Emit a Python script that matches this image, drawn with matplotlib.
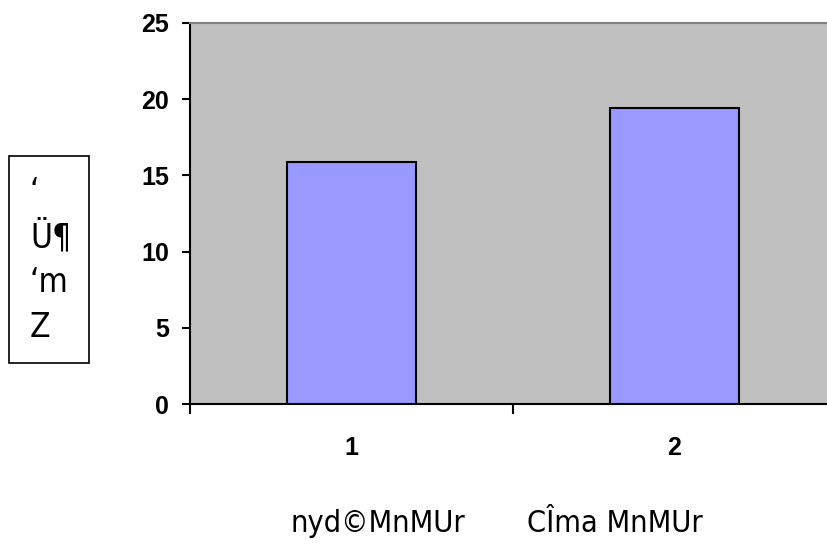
import matplotlib
matplotlib.use('Agg')
import matplotlib.pyplot as plt
from matplotlib.patches import Rectangle
from matplotlib.ticker import FixedLocator

categories = ['1', '2']
values = [15.9, 19.4]
y_ticks = [0, 5, 10, 15, 20, 25]
bottom_labels = ['nyd©MnMUr', 'CÎma MnMUr']
side_lines = ['‘', 'Ü¶', '‘m', 'Z']

narrow = ['DejaVu Sans', 'Liberation Sans']
plt.rcParams['font.family'] = ['Liberation Sans', 'DejaVu Sans']

fig = plt.figure(figsize=(8.27, 5.54), dpi=100)
ax = fig.add_axes([190 / 827, 150 / 554, 646 / 827, 381 / 554])
ax.set_facecolor('#C0C0C0')

pos = [1, 2]
ax.bar(pos, values, width=0.4, color='#9999FF', edgecolor='black', linewidth=1.5, zorder=3)

ax.set_xlim(0.5, 2.5)
ax.set_ylim(0, 25)
ax.set_yticks(y_ticks)
ax.set_yticklabels([str(t) for t in y_ticks], fontsize=18, fontweight='bold')
ax.set_xticks(pos)
ax.set_xticklabels(categories, fontsize=18, fontweight='bold')
ax.xaxis.set_minor_locator(FixedLocator([0.5, 1.5, 2.5]))
ax.tick_params(axis='x', which='major', length=0, pad=23)
ax.tick_params(axis='x', which='minor', length=7, width=1.5, direction='out')
ax.tick_params(axis='y', length=6, width=1.5, direction='out', pad=9)

ax.spines['left'].set_linewidth(1.5)
ax.spines['bottom'].set_linewidth(1.5)
ax.spines['top'].set_color('#808080')
ax.spines['top'].set_linewidth(1.5)
ax.spines['right'].set_visible(False)

# labels below the category axis
fig.text(378 / 827, 1 - 524 / 554, bottom_labels[0], fontsize=22, family=narrow,
         fontstretch='condensed', ha='center', va='center')
fig.text(615 / 827, 1 - 524 / 554, bottom_labels[1], fontsize=22, family=narrow,
         fontstretch='condensed', ha='center', va='center')

# boxed axis title on the left
fig.patches.append(Rectangle((9 / 827, 1 - 363 / 554), 80 / 827, 207 / 554,
                             transform=fig.transFigure, fill=False,
                             edgecolor='black', linewidth=1.2))
for i, line in enumerate(side_lines):
    fig.text(30 / 827, 1 - (202 + i * 45) / 554, line, fontsize=24, family=narrow,
             fontstretch='condensed', ha='left', va='baseline')

fig.savefig('out.png', dpi=100)
